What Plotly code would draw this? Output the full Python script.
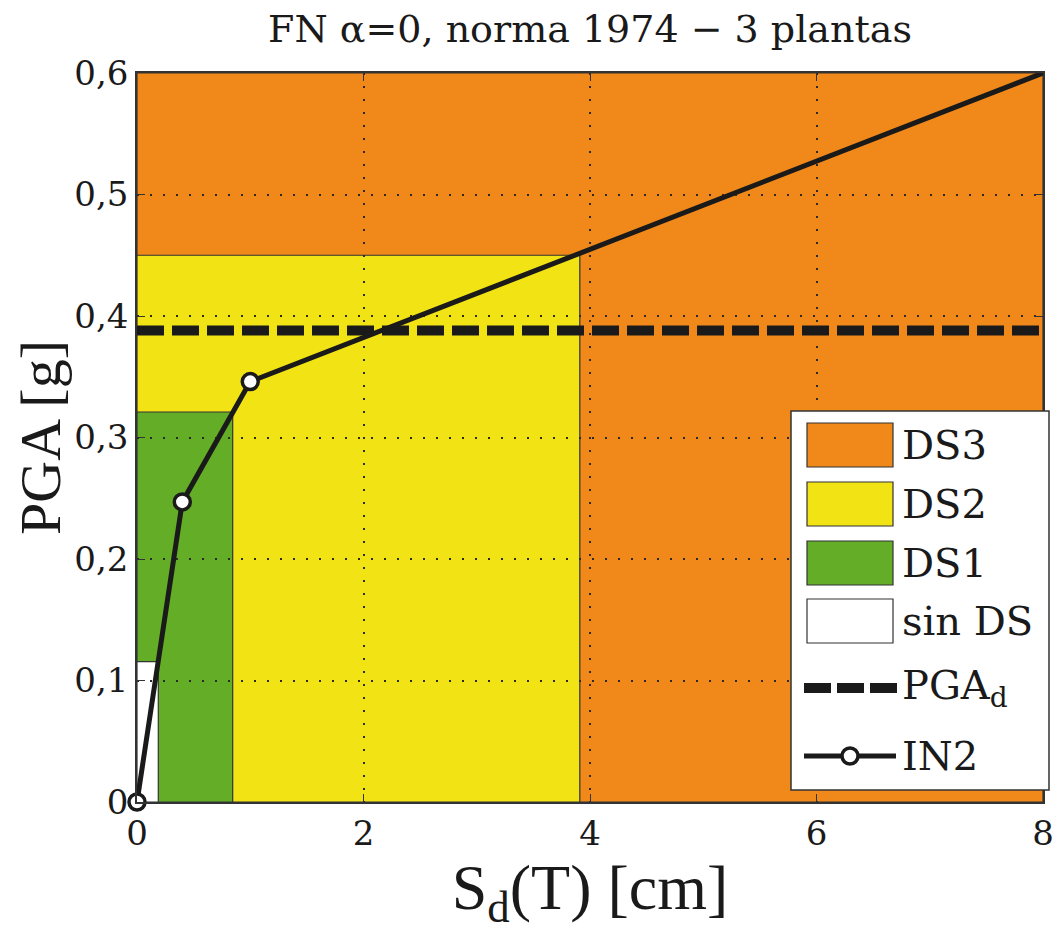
import plotly.graph_objects as go

# damage state regions, drawn from largest to smallest
ds_names = ['DS3', 'DS2', 'DS1', 'sin DS']
ds_x_max = [8.0, 3.91, 0.845, 0.188]
ds_y_max = [0.6, 0.450, 0.321, 0.1155]
ds_colors = ['#F0881A', '#F2E414', '#64AD26', '#FFFFFF']

# design PGA
pga_d = 0.388

# IN2 capacity curve
in2_x = [0.0, 0.4, 1.0, 8.0]
in2_y = [0.0, 0.247, 0.346, 0.6]

SERIF = 'Liberation Serif'
WIDE = 'DejaVu Serif'
INK = '#1a1a1a'
EDGE = '#333333'

# figure sits 8px in from the page corner (body margin)
W, H = 1055, 924
L, R, T, B = 129, 20, 65, 130
PW, PH = W - L - R, H - T - B


def px(x):
    # pixel column (page coords) -> paper x
    return (x - 8 - L) / PW


def py(y):
    # pixel row (page coords) -> paper y
    return (H - B + 8 - y) / PH


fig = go.Figure()

# colour regions as shapes below the grid so the dotted grid shows on top
for xm, ym, col in zip(ds_x_max, ds_y_max, ds_colors):
    fig.add_shape(type='rect', x0=0, y0=0, x1=xm, y1=ym, xref='x', yref='y',
                  fillcolor=col, line=dict(color=EDGE, width=1.2), layer='below')

fig.add_trace(go.Scatter(
    x=[0, 8], y=[pga_d, pga_d], mode='lines', name='PGA<sub>d</sub>',
    line=dict(color=INK, width=10, dash='27px,8px'), showlegend=False
))

fig.add_trace(go.Scatter(
    x=in2_x, y=in2_y, mode='lines+markers', name='IN2',
    line=dict(color=INK, width=5),
    marker=dict(symbol='circle', size=16, color='white', opacity=[1, 1, 1, 0],
                line=dict(color=INK, width=3.5)),
    cliponaxis=False, showlegend=False
))

# hand-built legend box to get the large swatches of the original
fig.add_shape(type='rect', xref='paper', yref='paper',
              x0=px(791), x1=px(1049), y0=py(790), y1=py(411),
              fillcolor='white', line=dict(color=EDGE, width=1.5), layer='above')

row_y = [445, 504, 563, 621, 688, 756]
sw_x0, sw_x1, txt_x = 807, 893, 900
for name, col, yc in zip(ds_names, ds_colors, row_y):
    fig.add_shape(type='rect', xref='paper', yref='paper',
                  x0=px(sw_x0), x1=px(sw_x1), y0=py(yc + 22), y1=py(yc - 22),
                  fillcolor=col, line=dict(color=EDGE, width=1.2), layer='above')

fig.add_shape(type='line', xref='paper', yref='paper',
              x0=px(804), x1=px(897), y0=py(row_y[4]), y1=py(row_y[4]),
              line=dict(color=INK, width=10, dash='27px,6px'), layer='above')
fig.add_shape(type='line', xref='paper', yref='paper',
              x0=px(804), x1=px(896), y0=py(row_y[5]), y1=py(row_y[5]),
              line=dict(color=INK, width=5), layer='above')
fig.add_shape(type='circle', xref='paper', yref='paper',
              xsizemode='pixel', ysizemode='pixel',
              xanchor=px(850), yanchor=py(row_y[5]), x0=-8, x1=8, y0=-8, y1=8,
              fillcolor='white', line=dict(color=INK, width=3.5), layer='above')

legend_labels = ds_names + ['PGA<sub>d</sub>', 'IN2']
for lab, yc in zip(legend_labels, row_y):
    fig.add_annotation(x=px(txt_x), y=py(yc), xref='paper', yref='paper',
                       text=lab, showarrow=False, xanchor='left', yanchor='middle',
                       font=dict(family=WIDE, size=40, color=INK))

axis_common = dict(
    showline=True, linecolor=EDGE, linewidth=1.5, mirror='ticks',
    ticks='inside', ticklen=8, tickcolor=EDGE, automargin=False,
    showgrid=True, gridcolor='#2a2a2a', griddash='2px,11px', gridwidth=1.5,
    zeroline=False, tickfont=dict(family=WIDE, size=34, color=INK),
)

fig.update_xaxes(
    range=[0, 8], tickvals=[0, 2, 4, 6, 8],
    title=dict(text='S<sub>d</sub>(T) [cm]', font=dict(family=SERIF, size=64, color=INK), standoff=12),
    **axis_common
)
fig.update_yaxes(
    range=[0, 0.6], tickvals=[0, 0.1, 0.2, 0.3, 0.4, 0.5, 0.6],
    title=dict(text='PGA [g]', font=dict(family=SERIF, size=58, color=INK), standoff=30),
    **axis_common
)

fig.update_layout(
    width=W, height=H,
    margin=dict(l=L, r=R, t=T, b=B, autoexpand=False),
    separators=',.',
    paper_bgcolor='white', plot_bgcolor='white',
    showlegend=False,
    title=dict(text='FN α=0, norma 1974 − 3 plantas', x=px(590), xanchor='center',
               xref='paper', y=1 - 21 / H, yanchor='middle',
               font=dict(family=WIDE, size=38, color=INK)),
)

fig.write_html('out.html')
